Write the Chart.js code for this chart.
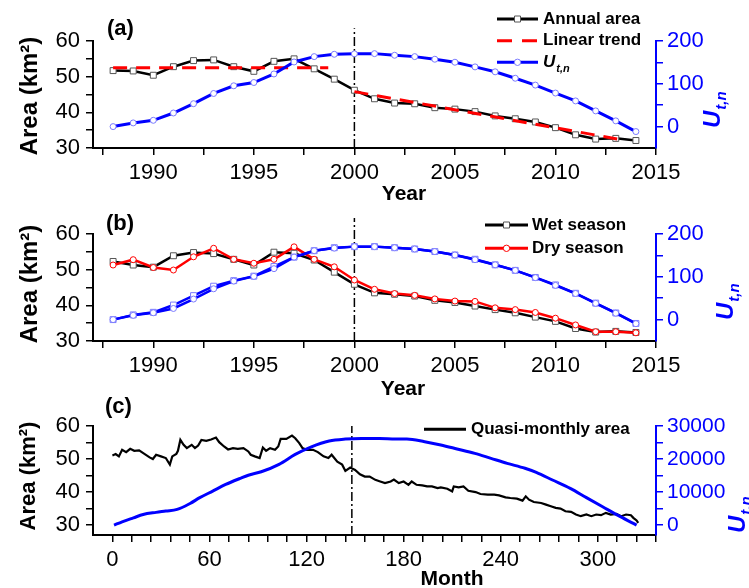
<!DOCTYPE html>
<html>
<head>
<meta charset="utf-8">
<script src="https://cdn.jsdelivr.net/npm/chart.js@4.4.1/dist/chart.umd.min.js"></script>
<style>
  body { margin: 0; background: #fff; width: 749px; height: 588px; overflow: hidden; position: relative; }
  canvas { position: absolute; left: 0; }
</style>
</head>
<body>
<canvas id="chartA" width="749" height="210" style="top:0px"></canvas>
<canvas id="chartB" width="749" height="210" style="top:196px"></canvas>
<canvas id="chartC" width="749" height="196" style="top:392px"></canvas>
<script>
// ---- data ----
const years = [1988, 1989, 1990, 1991, 1992, 1993, 1994, 1995, 1996, 1997, 1998, 1999, 2000,
  2001, 2002, 2003, 2004, 2005, 2006, 2007, 2008, 2009, 2010, 2011, 2012, 2013, 2014];

// (a)
const annualArea = [51.7, 51.6, 50.4, 52.8, 54.5, 54.7, 52.8, 51.5, 54.3, 55.0, 52.2, 49.3, 46.2,
  43.8, 42.6, 42.4, 41.3, 40.9, 40.2, 39.0, 38.2, 37.3, 35.7, 33.7, 32.5, 32.7, 32.1];
const trendYears = [1988, 1998.7, 1999.3, 2000, 2013.5];
const trendArea = [52.5, 52.5, null, 45.8, 32.1];
const uAnnual = [0, 8.6, 14.7, 31.8, 53.5, 77.4, 95.3, 103, 123, 151, 163.5, 169, 170,
  170.5, 166.7, 163.5, 157.4, 150.4, 139.5, 128, 113, 97, 78.4, 60, 36.7, 13.4, -11.6];

// (b)
const wetArea = [52.3, 51.3, 50.7, 53.9, 54.8, 54.5, 52.9, 51.3, 54.9, 54.6, 52.7, 49.3, 45.9,
  43.5, 43.1, 42.6, 41.4, 40.8, 39.8, 38.8, 37.9, 36.7, 35.5, 33.5, 32.5, 32.7, 32.4];
const dryArea = [51.3, 52.8, 50.6, 49.9, 53.6, 56.0, 52.9, 51.8, 52.9, 56.4, 52.9, 50.8, 47.1,
  44.5, 43.3, 42.8, 41.8, 41.2, 41.1, 39.3, 38.8, 38.0, 36.4, 34.5, 32.6, 32.6, 32.3];
const uWet = [0, 11, 17, 34, 56, 78, 91, 101.5, 124, 146, 161, 168, 170.5,
  170.5, 168, 165, 159, 151, 141, 128, 115, 98.5, 81, 61.5, 38.5, 15.5, -9];
const uDry = [0, 10, 16, 26, 48, 72, 90, 101, 119, 146, 161, 167, 170.5,
  170.5, 168, 165, 159, 151, 140, 128, 115, 98, 80, 61, 38, 15, -9.5];

// (c)
const monthsArea = [
  0, 2, 4, 6, 8.5, 11, 13.5, 16.5, 20, 23,
  25, 27, 30, 33, 35.5, 37, 39.5, 40.5, 42, 44,
  46, 49, 51, 53, 55, 58, 61, 64, 66, 69,
  71.5, 74.5, 77.5, 81, 84, 85.5, 88, 91, 93, 95,
  97.5, 100.5, 102.5, 104, 107.5, 111, 113, 115.5, 117.5, 120,
  124, 127, 130.5, 133.5, 135.5, 139, 142, 144, 147, 150,
  153, 156, 159, 162.5, 165.5, 168.5, 172, 174, 177, 180,
  183, 185, 188, 191.5, 194.5, 197.5, 201, 203, 207, 210,
  211, 214, 217, 220, 224.5, 227.5, 232, 236, 239, 243,
  246, 250, 253.5, 255.5, 257.5, 260.5, 265, 268, 271, 274,
  277, 280, 283.5, 286.5, 289.5, 293, 296, 299, 302, 305,
  308, 311.5, 314.5, 317.5, 320.5, 322, 324, 325];
const monthlyArea = [
  51.1, 51.5, 50.8, 52.8, 52.1, 53.1, 52.5, 52.6, 51.5, 50.5,
  50.0, 51.3, 50.8, 50.3, 48.3, 50.8, 51.5, 52.5, 55.8, 54.3,
  53.3, 54.3, 53.3, 54.1, 55.8, 55.5, 55.9, 56.5, 55.1, 53.8,
  52.9, 53.3, 53.1, 53.3, 52.3, 51.3, 50.8, 50.3, 53.5, 52.5,
  53.3, 52.8, 53.8, 56.1, 56.1, 57.1, 56.3, 54.8, 53.3, 52.8,
  52.8, 52.1, 50.8, 50.3, 51.3, 49.2, 48.3, 46.4, 47.4, 46.7,
  45.4, 44.7, 44.7, 43.7, 43.2, 42.7, 43.2, 43.8, 42.7, 43.2,
  42.2, 43.2, 42.2, 42.0, 41.7, 41.7, 41.2, 41.4, 41.0, 40.2,
  41.7, 41.4, 41.7, 40.4, 40.0, 39.4, 39.2, 39.2, 39.0, 38.4,
  38.2, 38.0, 37.4, 38.7, 37.7, 37.0, 36.7, 36.2, 35.7, 35.2,
  35.0, 34.2, 34.0, 33.2, 32.7, 33.2, 32.7, 33.2, 33.0, 33.7,
  33.2, 33.4, 32.7, 33.2, 33.0, 32.2, 31.4, 30.7];
const monthsU = [1, 6, 13, 19, 27, 33, 40, 48, 54, 62, 70, 79, 84, 92, 103, 113, 123, 134, 144,
  154, 165, 175, 182, 193, 203, 213, 224, 234, 244, 255, 262, 272, 283, 293, 303, 314, 324];
const uMonthly = [0, 1000, 2200, 3200, 3850, 4250, 4750, 6550, 8300, 10300, 12300, 14150, 15100,
  16150, 18400, 21400, 23700, 25450, 26050, 26250, 26250, 26050, 26050, 25250, 24250, 23050,
  21700, 20200, 18700, 17200, 15950, 13650, 11100, 8300, 5550, 2550, 0];

// tick positions
const yearTicks = [1987.5, 1990, 1992.5, 1995, 1997.5, 2000, 2002.5, 2005, 2007.5, 2010, 2012.5, 2015];
const monthTicks = [0, 12, 24, 36, 48, 60, 72, 84, 96, 108, 120, 132, 144, 156, 168, 180, 192,
  204, 216, 228, 240, 252, 264, 276, 288, 300, 312, 324, 336];
const areaTicks = [30, 35, 40, 45, 50, 55, 60];
const uTicks = [0, 50, 100, 150, 200];
const uMonthTicks = [0, 5000, 10000, 15000, 20000, 25000, 30000];

const FONT = '"Liberation Sans", Arial, Helvetica, sans-serif';
const BLUE = '#0000ff';
const RED = '#ff0000';
const LAVENDER = '#7a7aff';

Chart.defaults.font.family = FONT;

const pts = (xs, ys) => xs.map((x, i) => ({ x: x, y: ys[i] }));

// draws the panel letter, axis titles and in-plot legend
const decorations = {
  id: 'decorations',
  afterDraw(chart, args, o) {
    const ctx = chart.ctx;
    ctx.save();
    ctx.fillStyle = '#000';
    ctx.textBaseline = 'alphabetic';
    ctx.textAlign = 'left';
    ctx.font = 'bold 22px ' + FONT;
    ctx.fillText(o.panel, o.panelX, o.panelY);

    ctx.textAlign = 'center';
    ctx.font = 'bold 21px ' + FONT;
    ctx.fillText(o.xTitle, o.xTitleX, o.xTitleY);

    ctx.save();
    ctx.translate(o.leftX, o.leftY);
    ctx.rotate(-Math.PI / 2);
    ctx.font = 'bold ' + o.leftSize + 'px ' + FONT;
    ctx.fillText('Area (km\u00b2)', 0, 0);
    ctx.restore();

    ctx.save();
    ctx.translate(o.rightX, o.rightY);
    ctx.rotate(-Math.PI / 2);
    ctx.fillStyle = BLUE;
    ctx.textAlign = 'left';
    ctx.font = 'italic bold 24px ' + FONT;
    ctx.fillText('U', 0, 0);
    const w = ctx.measureText('U').width;
    ctx.font = 'italic bold 15px ' + FONT;
    ctx.fillText('t,n', w + 1, 6);
    ctx.restore();

    // legend
    o.legend.forEach(it => {
      ctx.save();
      ctx.strokeStyle = it.color;
      ctx.lineWidth = 3;
      ctx.setLineDash(it.dash || []);
      ctx.beginPath();
      ctx.moveTo(o.legX0, it.y);
      ctx.lineTo(o.legX1, it.y);
      ctx.stroke();
      ctx.setLineDash([]);
      const mx = (o.legX0 + o.legX1) / 2;
      if (it.marker) {
        ctx.fillStyle = '#fff';
        ctx.strokeStyle = it.markerColor;
        ctx.lineWidth = 1;
        ctx.beginPath();
        if (it.marker === 'rect') ctx.rect(mx - 3, it.y - 3, 6, 6);
        else ctx.arc(mx, it.y, 3.2, 0, Math.PI * 2);
        ctx.fill();
        ctx.stroke();
      }
      ctx.fillStyle = '#000';
      ctx.textAlign = 'left';
      ctx.textBaseline = 'middle';
      ctx.font = 'bold 17px ' + FONT;
      if (it.sub) {
        ctx.font = 'italic bold 17px ' + FONT;
        ctx.fillText(it.label, o.legTX, it.y);
        const lw = ctx.measureText(it.label).width;
        ctx.font = 'italic bold 11px ' + FONT;
        ctx.fillText(it.sub, o.legTX + lw + 1, it.y + 7);
      } else {
        ctx.fillText(it.label, o.legTX, it.y);
      }
      ctx.restore();
    });
    ctx.restore();
  }
};

function fixTicks(values) {
  return scale => { scale.ticks = values.map(v => ({ value: v })); };
}

function buildPanel(id, cfg) {
  const canvas = document.getElementById(id);
  const H = canvas.height;
  const tickGrid = color => ({
    display: true, drawOnChartArea: false, drawTicks: true,
    tickLength: 7, color: color, lineWidth: 1.5
  });
  return new Chart(canvas, {
    type: 'line',
    data: { datasets: cfg.datasets },
    options: {
      responsive: false,
      animation: false,
      layout: { padding: { top: cfg.top, left: 0, right: 0, bottom: 0 } },
      elements: { line: { tension: 0 } },
      plugins: {
        legend: { display: false },
        tooltip: { enabled: false },
        decorations: cfg.deco
      },
      scales: {
        x: {
          type: 'linear',
          min: cfg.xMin, max: cfg.xMax,
          afterBuildTicks: fixTicks(cfg.xTicks),
          afterFit: s => { s.height = H - cfg.bottom; },
          grid: tickGrid('#000'),
          border: { display: true, color: '#000', width: 2 },
          ticks: {
            autoSkip: false, maxRotation: 0, padding: 5, color: '#000',
            font: { size: 22 },
            callback: v => (v % cfg.xLabelEvery === 0 ? String(v) : '')
          }
        },
        y: {
          position: 'left',
          min: cfg.yMin, max: 60,
          afterBuildTicks: fixTicks(areaTicks),
          afterFit: s => { s.width = 93; },
          grid: tickGrid('#000'),
          border: { display: true, color: '#000', width: 2 },
          ticks: {
            autoSkip: false, padding: 6, color: '#000',
            font: { size: 22 },
            callback: v => (v % 10 === 0 ? String(v) : '')
          }
        },
        y1: {
          position: 'right',
          min: cfg.uMin, max: cfg.uMax,
          afterBuildTicks: fixTicks(cfg.uTicks),
          afterFit: s => { s.width = 93; },
          grid: tickGrid(BLUE),
          border: { display: true, color: BLUE, width: 2 },
          ticks: {
            autoSkip: false, padding: 4, color: BLUE,
            font: { size: cfg.uFont },
            callback: v => (v % cfg.uLabelEvery === 0 ? String(v) : '')
          }
        }
      }
    },
    plugins: [decorations]
  });
}

const dashDot = (x, y0, y1) => ({
  data: [{ x: x, y: y0 }, { x: x, y: y1 }],
  yAxisID: 'y', borderColor: '#000', borderWidth: 1.5,
  borderDash: [9, 3, 2, 3], pointRadius: 0, clip: false, order: 9
});

const squares = (line, edge) => ({
  borderColor: line, borderWidth: 2.5, pointStyle: 'rect', pointRadius: 4.2,
  pointBackgroundColor: '#fff', pointBorderColor: edge, pointBorderWidth: 1
});
const circles = (line, edge) => ({
  borderColor: line, borderWidth: 2.5, pointStyle: 'circle', pointRadius: 3,
  pointBackgroundColor: '#fff', pointBorderColor: edge, pointBorderWidth: 1
});

// (a)
buildPanel('chartA', {
  top: 41, bottom: 148,
  xMin: 1987, xMax: 2015, xTicks: yearTicks, xLabelEvery: 5,
  yMin: 30, uMin: -50, uMax: 200, uTicks: uTicks, uLabelEvery: 100, uFont: 22,
  datasets: [
    Object.assign({ label: 'Annual area', data: pts(years, annualArea), yAxisID: 'y', order: 3 },
      squares('#000', '#555')),
    { label: 'Linear trend', data: pts(trendYears, trendArea), yAxisID: 'y', order: 2,
      borderColor: RED, borderWidth: 3, borderDash: [14, 9], pointRadius: 0, spanGaps: false },
    Object.assign({ label: 'Ut,n', data: pts(years, uAnnual), yAxisID: 'y1', order: 1, borderWidth: 3 },
      circles(BLUE, LAVENDER), { borderWidth: 3 }),
    dashDot(2000, 30, 63.6)
  ],
  deco: {
    panel: '(a)', panelX: 107, panelY: 35,
    xTitle: 'Year', xTitleX: 404, xTitleY: 200,
    leftX: 36.5, leftY: 96, leftSize: 24,
    rightX: 720, rightY: 128,
    legX0: 497, legX1: 538, legTX: 543,
    legend: [
      { label: 'Annual area', color: '#000', y: 19, marker: 'rect', markerColor: '#555' },
      { label: 'Linear trend', color: RED, y: 40.7, dash: [15, 10] },
      { label: 'U', sub: 't,n', color: BLUE, y: 62.3, marker: 'circle', markerColor: LAVENDER }
    ]
  }
});

// (b)
buildPanel('chartB', {
  top: 38, bottom: 145,
  xMin: 1987, xMax: 2015, xTicks: yearTicks, xLabelEvery: 5,
  yMin: 30, uMin: -50, uMax: 200, uTicks: uTicks, uLabelEvery: 100, uFont: 22,
  datasets: [
    Object.assign({ label: 'Wet season', data: pts(years, wetArea), yAxisID: 'y', order: 4 },
      squares('#000', '#555')),
    Object.assign({ label: 'Dry season', data: pts(years, dryArea), yAxisID: 'y', order: 3 },
      circles(RED, RED)),
    Object.assign({ data: pts(years, uWet), yAxisID: 'y1', order: 2 },
      squares(BLUE, LAVENDER), { borderWidth: 2.5 }),
    Object.assign({ data: pts(years, uDry), yAxisID: 'y1', order: 1 },
      circles(BLUE, LAVENDER), { borderWidth: 2.5 }),
    dashDot(2000, 30, 64.5)
  ],
  deco: {
    panel: '(b)', panelX: 106, panelY: 34,
    xTitle: 'Year', xTitleX: 403, xTitleY: 199,
    leftX: 37, leftY: 88, leftSize: 24,
    rightX: 733, rightY: 124,
    legX0: 485, legX1: 528, legTX: 532,
    legend: [
      { label: 'Wet season', color: '#000', y: 29, marker: 'rect', markerColor: '#555' },
      { label: 'Dry season', color: RED, y: 52.3, marker: 'circle', markerColor: RED }
    ]
  }
});

// (c)
buildPanel('chartC', {
  top: 34, bottom: 143,
  xMin: -12, xMax: 336, xTicks: monthTicks, xLabelEvery: 60,
  yMin: 27, uMin: -3000, uMax: 30000, uTicks: uMonthTicks, uLabelEvery: 10000, uFont: 21,
  datasets: [
    { label: 'Quasi-monthly area', data: pts(monthsArea, monthlyArea), yAxisID: 'y', order: 2,
      borderColor: '#000', borderWidth: 2.2, pointRadius: 0 },
    { data: pts(monthsU, uMonthly), yAxisID: 'y1', order: 1,
      borderColor: BLUE, borderWidth: 3, pointRadius: 0, cubicInterpolationMode: 'monotone', tension: 0.4 },
    dashDot(148, 27, 60)
  ],
  deco: {
    panel: '(c)', panelX: 105, panelY: 21,
    xTitle: 'Month', xTitleX: 452, xTitleY: 193,
    leftX: 35, leftY: 84, leftSize: 22,
    rightX: 745, rightY: 141,
    legX0: 424, legX1: 466, legTX: 471,
    legend: [
      { label: 'Quasi-monthly area', color: '#000', y: 37.3 }
    ]
  }
});
</script>
</body>
</html>
